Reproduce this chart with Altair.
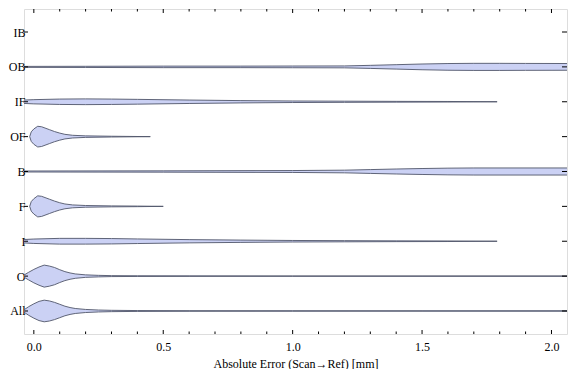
import altair as alt
import pandas as pd

# ---- data ----
categories = ["All", "O", "I", "F", "B", "OF", "IF", "OB", "IB"]  # bottom -> top

# violin outlines: x positions [mm] and half-widths (px at reference category spacing 36.4px)
all_x = [-0.045, -0.02, 0.0, 0.02, 0.04, 0.06, 0.08, 0.10, 0.12, 0.14, 0.16, 0.20, 0.25, 0.30, 0.40, 0.60, 1.0, 1.5, 2.1]
all_w = [0.0, 4.5, 7.5, 10.0, 11.3, 10.5, 9.0, 7.0, 5.0, 3.6, 2.6, 1.6, 1.0, 0.7, 0.45, 0.3, 0.25, 0.2, 0.2]

o_x = [-0.045, -0.02, 0.0, 0.02, 0.04, 0.06, 0.08, 0.10, 0.12, 0.14, 0.16, 0.20, 0.25, 0.30, 0.40, 0.60, 1.0, 1.5, 2.1]
o_w = [0.0, 4.0, 7.0, 9.5, 11.5, 10.5, 9.0, 6.7, 4.7, 3.3, 2.3, 1.3, 0.8, 0.5, 0.35, 0.25, 0.2, 0.2, 0.2]

i_x = [-0.06, 0.0, 0.1, 0.2, 0.3, 0.4, 0.6, 0.8, 1.0, 1.2, 1.4, 1.6, 1.79]
i_w = [1.5, 2.3, 3.0, 3.0, 2.8, 2.4, 1.7, 1.2, 0.8, 0.6, 0.4, 0.3, 0.0]

f_x = [-0.016, -0.01, 0.0, 0.015, 0.03, 0.06, 0.08, 0.10, 0.12, 0.15, 0.20, 0.30, 0.40, 0.50]
f_w = [0.0, 5.0, 8.0, 11.0, 10.5, 7.5, 5.5, 3.8, 2.5, 1.5, 0.9, 0.5, 0.3, 0.0]

b_x = [-0.06, 0.5, 1.0, 1.2, 1.3, 1.4, 1.5, 1.6, 1.7, 2.1]
b_w = [0.5, 0.7, 1.0, 1.4, 2.0, 2.6, 3.1, 3.5, 3.7, 3.7]

of_x = [-0.016, -0.01, 0.0, 0.015, 0.03, 0.06, 0.08, 0.10, 0.12, 0.15, 0.20, 0.30, 0.45]
of_w = [0.0, 5.0, 8.0, 10.8, 10.3, 7.3, 5.3, 3.7, 2.4, 1.4, 0.8, 0.4, 0.0]

if_x = [-0.06, 0.0, 0.1, 0.2, 0.3, 0.4, 0.6, 0.8, 1.0, 1.2, 1.4, 1.6, 1.79]
if_w = [1.5, 2.2, 2.8, 3.0, 2.8, 2.5, 1.8, 1.2, 0.8, 0.6, 0.4, 0.3, 0.0]

ob_x = [-0.06, 0.2, 0.5, 0.8, 1.0, 1.2, 1.3, 1.4, 1.5, 1.6, 1.7, 1.8, 1.9, 2.1]
ob_w = [0.5, 0.6, 0.8, 0.8, 0.9, 1.0, 1.6, 2.3, 3.0, 3.5, 3.7, 3.7, 3.6, 3.5]

x_major = [0.0, 0.5, 1.0, 1.5, 2.0]
x_minor = [0.1, 0.2, 0.3, 0.4, 0.6, 0.7, 0.8, 0.9, 1.1, 1.2, 1.3, 1.4, 1.6, 1.7, 1.8, 1.9]

shapes = {
    "All": (all_x, all_w), "O": (o_x, o_w), "I": (i_x, i_w), "F": (f_x, f_w),
    "B": (b_x, b_w), "OF": (of_x, of_w), "IF": (if_x, if_w), "OB": (ob_x, ob_w),
}

REF_STEP = 36.4
rows = []
for cat, (xs, ws) in shapes.items():
    idx = categories.index(cat) + 1
    for x, w in zip(xs, ws):
        rows.append({"cat": cat, "x": x, "lo": idx - w / REF_STEP, "hi": idx + w / REF_STEP})
df = pd.DataFrame(rows)

W, H = 543, 325
FONT = "Liberation Serif"
xscale = alt.Scale(domain=[-0.038, 2.06], nice=False, zero=False)
yscale = alt.Scale(domain=[0.34, 9.66], nice=False, zero=False)

label_expr = "[" + ",".join("'%s'" % c for c in categories) + "][datum.value - 1]"

violins = alt.Chart(df).mark_area(
    fill="#cbd1f4", stroke="#50566a", strokeWidth=0.9, clip=True
).encode(
    x=alt.X("x:Q", scale=xscale,
            axis=alt.Axis(values=x_major, format=".1f", tickSize=0, domain=False, grid=False,
                          labelPadding=7, labelFont=FONT, labelFontSize=12, labelColor="black",
                          title="Absolute Error (Scan\u2192Ref) [mm]", titleFont=FONT,
                          titleFontSize=12, titleFontWeight="normal", titleColor="black",
                          titlePadding=6)),
    y=alt.Y("lo:Q", scale=yscale,
            axis=alt.Axis(values=list(range(1, 10)), labelExpr=label_expr, tickSize=0,
                          domain=False, grid=False, labelPadding=-1, labelFont=FONT,
                          labelFontSize=12, labelColor="black", title=None)),
    y2="hi:Q",
    detail="cat:N",
)

xt = pd.DataFrame({"v": x_major + x_minor, "len": [4] * len(x_major) + [2.5] * len(x_minor)})
xticks_bottom = alt.Chart(xt).mark_rule(color="black", strokeWidth=1).encode(
    x=alt.X("v:Q", scale=xscale), y=alt.value(H), y2=alt.Y2("y2:Q")
).transform_calculate(y2="0")
# bottom and top ticks drawn with pixel offsets from frame
xt_major = pd.DataFrame({"v": x_major})
xt_minor = pd.DataFrame({"v": x_minor})


def xtick(data, y0, y1):
    return alt.Chart(data).mark_rule(color="black", strokeWidth=1).encode(
        x=alt.X("v:Q", scale=xscale), y=alt.value(y0), y2=alt.value(y1))


yt = pd.DataFrame({"v": list(range(1, 10))})


def ytick(x0, x1):
    return alt.Chart(yt).mark_rule(color="black", strokeWidth=1).encode(
        y=alt.Y("v:Q", scale=yscale), x=alt.value(x0), x2=alt.value(x1))


chart = alt.layer(
    violins,
    xtick(xt_major, H, H - 4), xtick(xt_minor, H, H - 2.5),
    xtick(xt_major, 0, 4), xtick(xt_minor, 0, 2.5),
    ytick(0, 4), ytick(W, W - 5),
).properties(
    width=W, height=H,
    padding={"left": 0, "top": 0, "right": 0, "bottom": 0},
).configure_view(stroke="black", strokeWidth=1).configure(background="white")

chart.save("out.html", embed_options={"renderer": "svg", "actions": False})
